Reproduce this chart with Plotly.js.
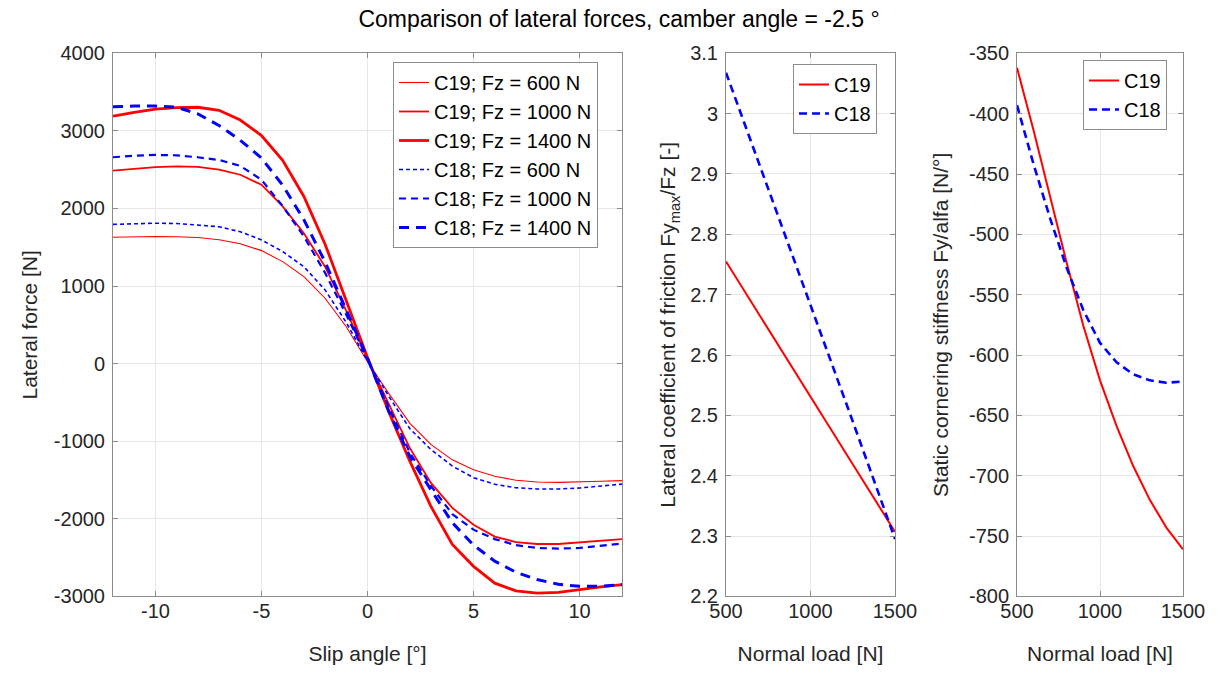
<!DOCTYPE html>
<html><head><meta charset="utf-8">
<script src="https://cdn.plot.ly/plotly-3.0.1.min.js"></script>
<style>html,body{margin:0;padding:0;background:#fff;} #chart{width:1222px;height:675px;}</style>
</head><body><div id="chart"></div>
<script>
// ---- Data ----
const slipAngle = [-12,-11,-10,-9,-8,-7,-6,-5,-4,-3,-2,-1,0,1,2,3,4,5,6,7,8,9,10,11,12];
const c19_600  = [1629,1636,1638,1636,1625,1597,1545,1457,1315,1121,843,475,25,-383,-770,-1045,-1240,-1367,-1452,-1504,-1526,-1530,-1526,-1517,-1508];
const c19_1000 = [2487,2512,2534,2543,2535,2500,2435,2306,2026,1681,1250,680,60,-520,-1090,-1540,-1860,-2076,-2230,-2300,-2325,-2325,-2303,-2282,-2262];
const c19_1400 = [3190,3240,3280,3300,3305,3265,3140,2940,2620,2155,1540,800,80,-620,-1260,-1845,-2330,-2613,-2830,-2930,-2957,-2948,-2918,-2879,-2848];
const c18_600  = [1795,1805,1810,1806,1790,1765,1700,1595,1445,1250,950,530,35,-420,-840,-1110,-1320,-1470,-1555,-1600,-1616,-1616,-1603,-1581,-1553];
const c18_1000 = [2660,2680,2690,2685,2660,2625,2550,2370,2030,1640,1170,630,60,-560,-1150,-1580,-1940,-2140,-2262,-2340,-2376,-2385,-2376,-2346,-2320];
const c18_1400 = [3310,3320,3320,3305,3220,3070,2880,2650,2300,1855,1310,690,70,-610,-1200,-1630,-2050,-2340,-2546,-2689,-2783,-2845,-2871,-2871,-2849];

const normalLoadMu = [500,750,1000,1250,1500];
const muC19 = [2.755,2.643,2.530,2.418,2.307];
const muC18 = [3.068,2.876,2.683,2.490,2.295];

const normalLoadCs = [500,600,700,800,900,1000,1100,1200,1300,1400,1500];
const csC19 = [-362,-414,-469,-524,-576,-621,-659,-692,-720,-743,-761];
const csC18 = [-393,-442,-487,-528,-563,-590,-606,-616,-621,-623,-622];

// ---- Tick labels ----
const leftXTicks = [-10,-5,0,5,10];
const leftXText = ['-10','-5','0','5','10'];
const leftYTicks = [-3000,-2000,-1000,0,1000,2000,3000,4000];
const leftYText = ['-3000','-2000','-1000','0','1000','2000','3000','4000'];
const loadTicks = [500,1000,1500];
const loadText = ['500','1000','1500'];
const muTicks = [2.2,2.3,2.4,2.5,2.6,2.7,2.8,2.9,3.0,3.1];
const muText = ['2.2','2.3','2.4','2.5','2.6','2.7','2.8','2.9','3','3.1'];
const csTicks = [-800,-750,-700,-650,-600,-550,-500,-450,-400,-350];
const csText = ['-800','-750','-700','-650','-600','-550','-500','-450','-400','-350'];

const RED = '#ff0000', BLUE = '#0000ff';
const FONT = 'Liberation Sans, Arial, Helvetica, sans-serif';

function tr(x, y, name, color, width, dash, xa, ya, leg) {
  return {x:x, y:y, name:name, type:'scatter', mode:'lines',
    line:{color:color, width:width, dash:dash},
    xaxis:xa, yaxis:ya, legend:leg, hoverinfo:'x+y+name'};
}

const data = [
  tr(slipAngle, c19_600,  'C19; Fz = 600 N',  RED, 1.1, 'solid', 'x','y','legend'),
  tr(slipAngle, c19_1000, 'C19; Fz = 1000 N', RED, 1.8, 'solid', 'x','y','legend'),
  tr(slipAngle, c19_1400, 'C19; Fz = 1400 N', RED, 2.8, 'solid', 'x','y','legend'),
  tr(slipAngle, c18_600,  'C18; Fz = 600 N',  BLUE, 1.6, '4px,3px', 'x','y','legend'),
  tr(slipAngle, c18_1000, 'C18; Fz = 1000 N', BLUE, 2.2, '7px,5px', 'x','y','legend'),
  tr(slipAngle, c18_1400, 'C18; Fz = 1400 N', BLUE, 3.0, '10px,7px', 'x','y','legend'),
  tr(normalLoadMu, muC19, 'C19', RED, 2.0, 'solid', 'x2','y2','legend2'),
  tr(normalLoadMu, muC18, 'C18', BLUE, 2.6, '8px,5px', 'x2','y2','legend2'),
  tr(normalLoadCs, csC19, 'C19', RED, 2.0, 'solid', 'x3','y3','legend3'),
  tr(normalLoadCs, csC18, 'C18', BLUE, 2.6, '8px,5px', 'x3','y3','legend3')
];

function ax(domain, range, tickvals, ticktext, title, anchor, standoff, isX) {
  return {domain:domain, range:range, tickmode:'array', tickvals:tickvals, ticktext:ticktext,
    showline:true, linecolor:'#8c8c8c', linewidth:1, mirror:'ticks',
    ticks:'inside', ticklen:5, tickcolor:'#8c8c8c',
    ticklabelstandoff: isX ? -3 : 3,
    showgrid:true, gridcolor:'#e6e6e6', gridwidth:1, zeroline:false,
    tickfont:{family:FONT, size:20, color:'#262626'},
    title:{text:title, standoff:standoff, font:{family:FONT, size:21, color:'#262626'}},
    automargin:false, anchor:anchor, fixedrange:true};
}

const yDom = [0.1165, 0.921];
const legendBase = {bgcolor:'#ffffff', bordercolor:'#8c8c8c', borderwidth:1,
  font:{family:FONT, size:20, color:'#000000'}, xanchor:'left', yanchor:'top',
  xref:'paper', yref:'paper', tracegroupgap:0};

const layout = {
  width:1222, height:675,
  margin:{l:0, r:0, t:0, b:0},
  paper_bgcolor:'#ffffff', plot_bgcolor:'#ffffff',
  showlegend:true,
  title:{text:'Comparison of lateral forces, camber angle = -2.5 °', x:619/1222, xanchor:'center',
    y:1-19/675, yanchor:'middle', yref:'container',
    font:{family:FONT, size:23, color:'#000000'}},
  xaxis: ax([113/1222, 622/1222], [-12,12], leftXTicks, leftXText, 'Slip angle [°]', 'y', 24, true),
  yaxis: ax(yDom, [-3000,4000], leftYTicks, leftYText, 'Lateral force [N]', 'x', 10, false),
  xaxis2: ax([726/1222, 895/1222], [500,1500], loadTicks, loadText, 'Normal load [N]', 'y2', 24, true),
  yaxis2: ax(yDom, [2.2,3.1], muTicks, muText, 'Lateral coefficient of friction Fy<sub>max</sub>/Fz [-]', 'x2', 8, false),
  xaxis3: ax([1017/1222, 1183/1222], [500,1500], loadTicks, loadText, 'Normal load [N]', 'y3', 24, true),
  yaxis3: ax(yDom, [-800,-350], csTicks, csText, 'Static cornering stiffness Fy/alfa [N/°]', 'x3', 14, false),
  legend: Object.assign({}, legendBase, {x:393/1222, y:1-62/675}),
  legend2: Object.assign({}, legendBase, {x:793/1222, y:1-64/675}),
  legend3: Object.assign({}, legendBase, {x:1083/1222, y:1-60/675})
};

Plotly.newPlot('chart', data, layout, {displayModeBar:false});
</script>
</body></html>
